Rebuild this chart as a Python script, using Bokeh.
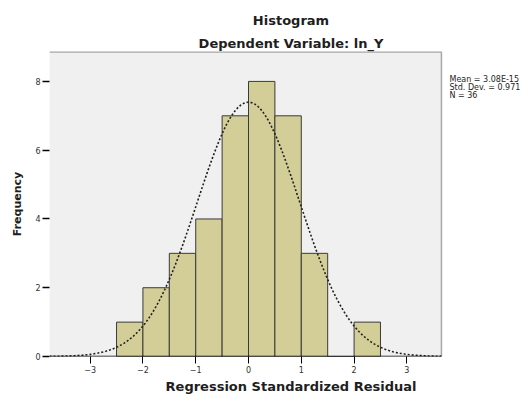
import numpy as np
from bokeh.plotting import figure
from bokeh.models import Title, Label, Range1d, FixedTicker, ColumnDataSource, BoxAnnotation
from bokeh.embed import file_html
from bokeh.resources import INLINE

# Data
bin_left = [-2.5, -2.0, -1.5, -1.0, -0.5, 0.0, 0.5, 1.0, 1.5, 2.0]
bin_right = [-2.0, -1.5, -1.0, -0.5, 0.0, 0.5, 1.0, 1.5, 2.0, 2.5]
counts = [1, 2, 3, 4, 7, 8, 7, 3, 0, 1]
x_ticks = [-3, -2, -1, 0, 1, 2, 3]
y_ticks = [0, 2, 4, 6, 8]
mean_val = 3.08e-15
std_val = 0.971
n_val = 36
legend_lines = ["Mean = 3.08E-15", "Std. Dev. = 0.971", "N = 36"]

# Axis extents of the plotting area
XMIN, XMAX = -3.77, 3.655
YMIN, YMAX = 0.0, 8.87
X_EXT = 5.38  # frame extended to the right to hold the statistics text

FONT = "DejaVu Sans"
TXT = "#1e1e1e"

p = figure(frame_width=483, frame_height=305, output_backend="svg", toolbar_location=None,
           title="Histogram",
           x_range=Range1d(XMIN, X_EXT), y_range=Range1d(YMIN, YMAX),
           min_border_left=49, min_border_right=0, min_border_top=51, min_border_bottom=38)
p.background_fill_color = "white"
p.border_fill_color = "white"
p.outline_line_color = None
p.grid.visible = False

p.title.align = "center"
p.title.offset = 2
p.title.text_font = FONT
p.title.text_font_size = "13px"
p.title.text_font_style = "bold"
p.title.text_color = TXT
p.title.standoff = 10

t2 = Title(text="Dependent Variable: ln_Y", align="center", offset=2, text_font=FONT,
           text_font_size="13px", text_font_style="bold", text_color=TXT, standoff=2)
p.add_layout(t2, "above")

xl = Title(text="Regression Standardized Residual", align="center", offset=-14,
           text_font=FONT, text_font_size="13px", text_font_style="bold", text_color=TXT,
           standoff=2)
p.add_layout(xl, "below")

# plot-area background and frame lines
p.add_layout(BoxAnnotation(left=XMIN, right=XMAX, bottom=YMIN, top=YMAX,
                           fill_color="#f0f0f0", fill_alpha=1, line_color=None, level="underlay"))
p.segment(x0=[XMIN], y0=[YMAX], x1=[XMAX], y1=[YMAX], line_color="#a8a8a8", line_width=2.5)
p.segment(x0=[XMAX], y0=[YMIN], x1=[XMAX], y1=[YMAX], line_color="#a8a8a8", line_width=1.5)

src = ColumnDataSource(dict(left=bin_left, right=bin_right, top=counts, bottom=[0] * len(counts)))
p.quad(left="left", right="right", top="top", bottom="bottom", source=src,
       fill_color="#d3ce97", line_color="#3a3a3a", line_width=1)

xs = np.linspace(XMIN, XMAX, 300)
binw = bin_right[0] - bin_left[0]
ys = n_val * binw / (std_val * np.sqrt(2 * np.pi)) * np.exp(-0.5 * ((xs - mean_val) / std_val) ** 2)
p.line(xs, ys, line_color="#202020", line_width=1.6, line_dash="2 2")

# baseline
p.segment(x0=[XMIN], y0=[YMIN], x1=[XMAX], y1=[YMIN], line_color="black", line_width=1.6)

xa = p.xaxis[0]
xa.ticker = FixedTicker(ticks=x_ticks)
xa.axis_line_color = None
xa.major_tick_out = 7
xa.major_tick_in = 0
xa.minor_tick_out = 0
xa.minor_tick_in = 0
xa.major_tick_line_color = "black"
xa.major_label_text_font = FONT
xa.major_label_text_font_size = "8px"
xa.major_label_standoff = 2
xa.major_label_text_color = "#303030"

ya = p.yaxis[0]
ya.ticker = FixedTicker(ticks=y_ticks)
ya.axis_line_color = None
ya.major_tick_out = 7
ya.major_tick_in = 0
ya.minor_tick_out = 0
ya.minor_tick_in = 0
ya.major_tick_line_color = "black"
ya.major_tick_line_width = 1.5
ya.major_label_text_font = FONT
ya.major_label_text_font_size = "8px"
ya.major_label_standoff = 2
ya.major_label_text_color = "#303030"
ya.axis_label = "Frequency"
ya.axis_label_text_font = FONT
ya.axis_label_text_font_size = "11px"
ya.axis_label_text_font_style = "bold"
ya.axis_label_standoff = 8
ya.axis_label_text_color = TXT

for i, t in enumerate(legend_lines):
    p.add_layout(Label(x=400, y=277 - i * 8, x_units="screen", y_units="screen",
                       text=t, text_font=FONT, text_font_size="8px", text_color=TXT,
                       text_baseline="middle"))

open("out.html", "w").write(file_html(p, INLINE))
